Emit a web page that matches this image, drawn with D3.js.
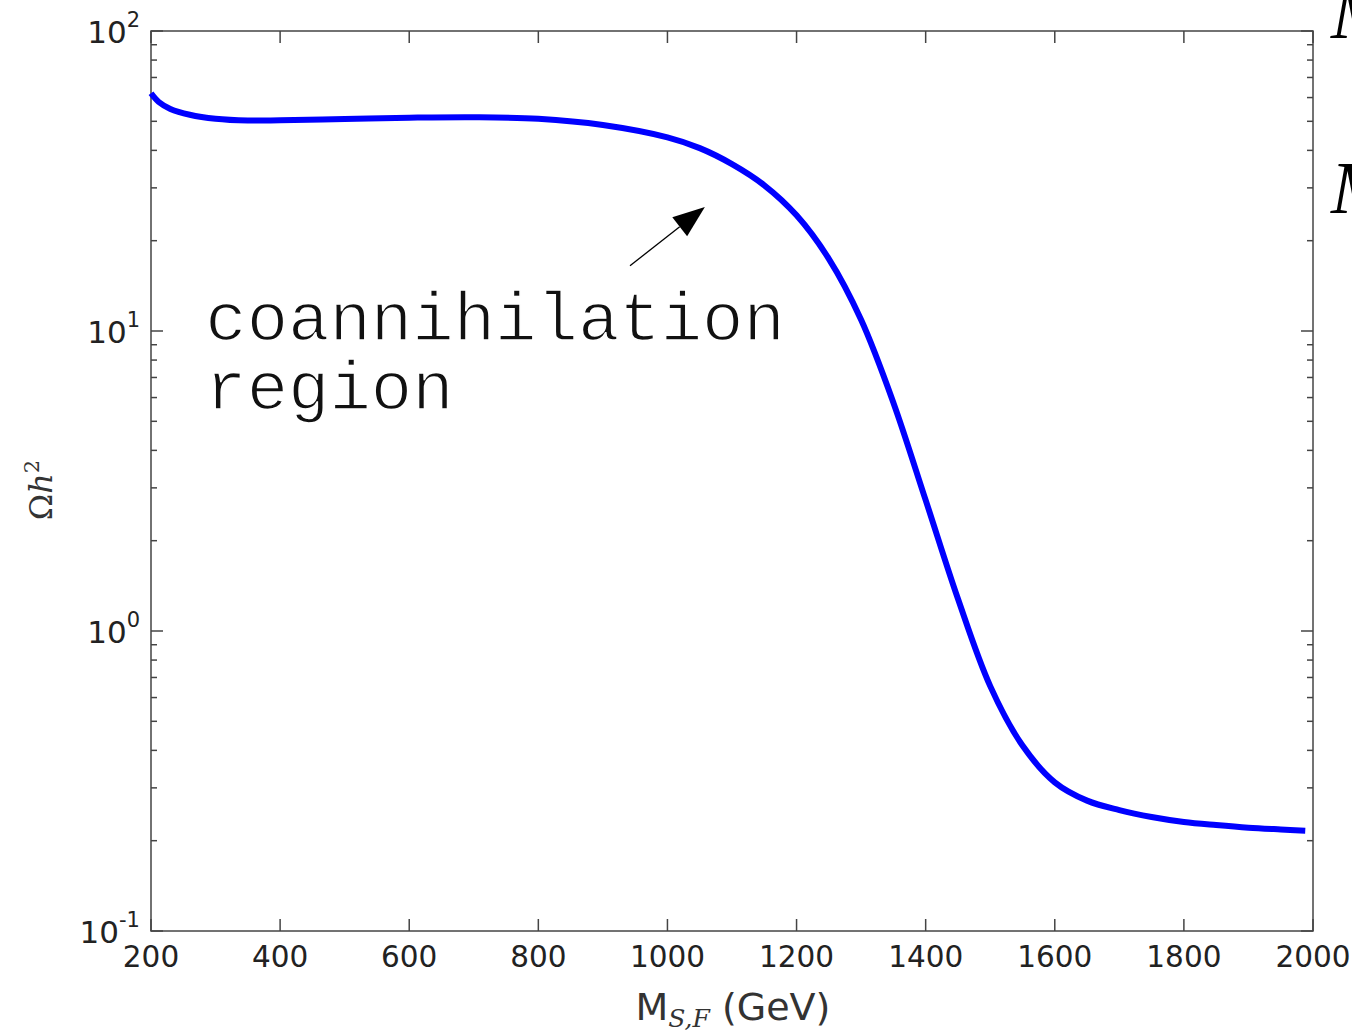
<!DOCTYPE html>
<html>
<head>
<meta charset="utf-8">
<script src="https://cdn.jsdelivr.net/npm/d3@7"></script>
<style>
  body { margin: 0; background: #fff; }
  svg { display: block; }
</style>
</head>
<body>
<svg id="chart" width="1352" height="1032"></svg>
<script>
// relic density vs mass
const massGeV = [200, 212, 230, 260, 300, 350, 400, 500, 600, 700, 800, 900, 1000, 1050, 1100, 1150,
  1200, 1250, 1300, 1350, 1400, 1450, 1500, 1550, 1600, 1650, 1700, 1750, 1800, 1850, 1900, 1950, 1988];
const omegaH2 = [62, 58, 55, 52.6, 51.0, 50.3, 50.4, 50.9, 51.4, 51.6, 51.0, 48.6, 44.2, 40.7, 36.0, 30.6,
  24.3, 17.4, 10.9, 5.77, 2.73, 1.28, 0.655, 0.415, 0.313, 0.272, 0.253, 0.240, 0.231, 0.2255, 0.221, 0.218, 0.216];

const xTicks = [200, 400, 600, 800, 1000, 1200, 1400, 1600, 1800, 2000];
const yDecades = [-1, 0, 1, 2];

// annotation (data units)
const arrowFrom = [942, 16.5];
const arrowTo = [1058, 25.9];
const noteAt = [284, 9.33];
const noteLines = ["coannihilation", "region"];

const svg = d3.select("#chart");
const pLeft = 151, pRight = 1313, pTop = 31, pBottom = 931;

const x = d3.scaleLinear().domain([200, 2000]).range([pLeft, pRight]);
const y = d3.scaleLog().domain([0.1, 100]).range([pBottom, pTop]);

const frameColor = "#444";

// minor y ticks 2..9 in each decade
let minor = [];
yDecades.slice(0, -1).forEach(e => {
  for (let k = 2; k <= 9; k++) minor.push(k * Math.pow(10, e));
});

const ticks = svg.append("g");
// x major ticks, bottom and top, pointing in
ticks.selectAll(".xb").data(xTicks).enter().append("line")
  .attr("x1", d => x(d)).attr("x2", d => x(d))
  .attr("y1", pBottom).attr("y2", pBottom - 12)
  .style("stroke", frameColor).style("stroke-width", 1.5);
ticks.selectAll(".xt").data(xTicks).enter().append("line")
  .attr("x1", d => x(d)).attr("x2", d => x(d))
  .attr("y1", pTop).attr("y2", pTop + 12)
  .style("stroke", frameColor).style("stroke-width", 1.5);

// y major + minor ticks, left and right
const yMajor = yDecades.map(e => Math.pow(10, e));
[[pLeft, 1], [pRight, -1]].forEach(([x0, dir]) => {
  ticks.append("g").selectAll("line").data(yMajor).enter().append("line")
    .attr("x1", x0).attr("x2", x0 + dir * 12)
    .attr("y1", d => y(d)).attr("y2", d => y(d))
    .style("stroke", frameColor).style("stroke-width", 1.5);
  ticks.append("g").selectAll("line").data(minor).enter().append("line")
    .attr("x1", x0).attr("x2", x0 + dir * 6)
    .attr("y1", d => y(d)).attr("y2", d => y(d))
    .style("stroke", frameColor).style("stroke-width", 1.5);
});

// frame
svg.append("rect")
  .attr("x", pLeft).attr("y", pTop)
  .attr("width", pRight - pLeft).attr("height", pBottom - pTop)
  .style("fill", "none").style("stroke", frameColor).style("stroke-width", 1.5);

// x tick labels
svg.append("g").selectAll("text").data(xTicks).enter().append("text")
  .attr("x", d => x(d)).attr("y", 967)
  .attr("text-anchor", "middle")
  .style("font-family", "DejaVu Sans").style("font-size", "29.5px").style("fill", "#222")
  .text(d => d);

// y tick labels 10^n
const yl = svg.append("g").selectAll("text").data(yDecades).enter().append("text")
  .attr("x", 140).attr("y", d => y(Math.pow(10, d)) + 12)
  .attr("text-anchor", "end")
  .style("font-family", "DejaVu Sans").style("fill", "#222");
yl.append("tspan").style("font-size", "31px").text("10");
yl.append("tspan").attr("dy", -16).style("font-size", "21px").text(d => d);

// axis labels
const xl = svg.append("text")
  .attr("x", 733).attr("y", 1020)
  .attr("text-anchor", "middle")
  .style("font-family", "DejaVu Sans").style("font-size", "38px").style("fill", "#333");
xl.append("tspan").text("M");
xl.append("tspan").attr("dy", 7)
  .style("font-family", "DejaVu Serif").style("font-style", "italic").style("font-size", "25px")
  .text("S,F");
xl.append("tspan").attr("dy", -7).text(" (GeV)");

const ylab = svg.append("text")
  .attr("transform", "translate(52,490) rotate(-90)")
  .attr("text-anchor", "middle")
  .style("font-family", "DejaVu Serif").style("font-size", "32px").style("fill", "#333");
ylab.append("tspan").text("Ω");
ylab.append("tspan").style("font-style", "italic").text("h");
ylab.append("tspan").attr("dy", -13).style("font-size", "21px").text("2");

// the curve
const pts = massGeV.map((m, i) => [m, omegaH2[i]]);
const line = d3.line()
  .x(d => x(d[0]))
  .y(d => y(d[1]))
  .curve(d3.curveCatmullRom.alpha(0.5));

svg.append("path")
  .datum(pts)
  .attr("d", line)
  .style("fill", "none")
  .style("stroke", "#0000ff")
  .style("stroke-width", 6)
  .style("stroke-linejoin", "round");

// annotation arrow
const ax0 = x(arrowFrom[0]), ay0 = y(arrowFrom[1]);
const ax1 = x(arrowTo[0]), ay1 = y(arrowTo[1]);
const len = Math.hypot(ax1 - ax0, ay1 - ay0);
const ux = (ax1 - ax0) / len, uy = (ay1 - ay0) / len;
const headL = 32, headW = 12;
const bx = ax1 - ux * headL, by = ay1 - uy * headL;
svg.append("line")
  .attr("x1", ax0).attr("y1", ay0).attr("x2", bx).attr("y2", by)
  .style("stroke", "#000").style("stroke-width", 1.3);
svg.append("polygon")
  .attr("points", [[ax1, ay1], [bx - uy * headW, by + ux * headW], [bx + uy * headW, by - ux * headW]].join(" "))
  .style("fill", "#000");

// thin courier-like look: a white outline eats into the glyphs
svg.append("g").selectAll("text").data(noteLines).enter().append("text")
  .attr("x", x(noteAt[0]))
  .attr("y", (d, i) => y(noteAt[1]) + i * 69)
  .style("font-family", "Liberation Mono").style("font-size", "69px").style("fill", "#111")
  .style("stroke", "#fff").style("stroke-width", 1.6)
  .text(d => d);

// cut-off legend text at the right edge
svg.append("g").selectAll("text").data([38, 213]).enter().append("text")
  .attr("x", 1331).attr("y", d => d)
  .style("font-family", "Liberation Serif").style("font-style", "italic")
  .style("font-size", "74px").style("fill", "#000")
  .text("M");
</script>
</body>
</html>
